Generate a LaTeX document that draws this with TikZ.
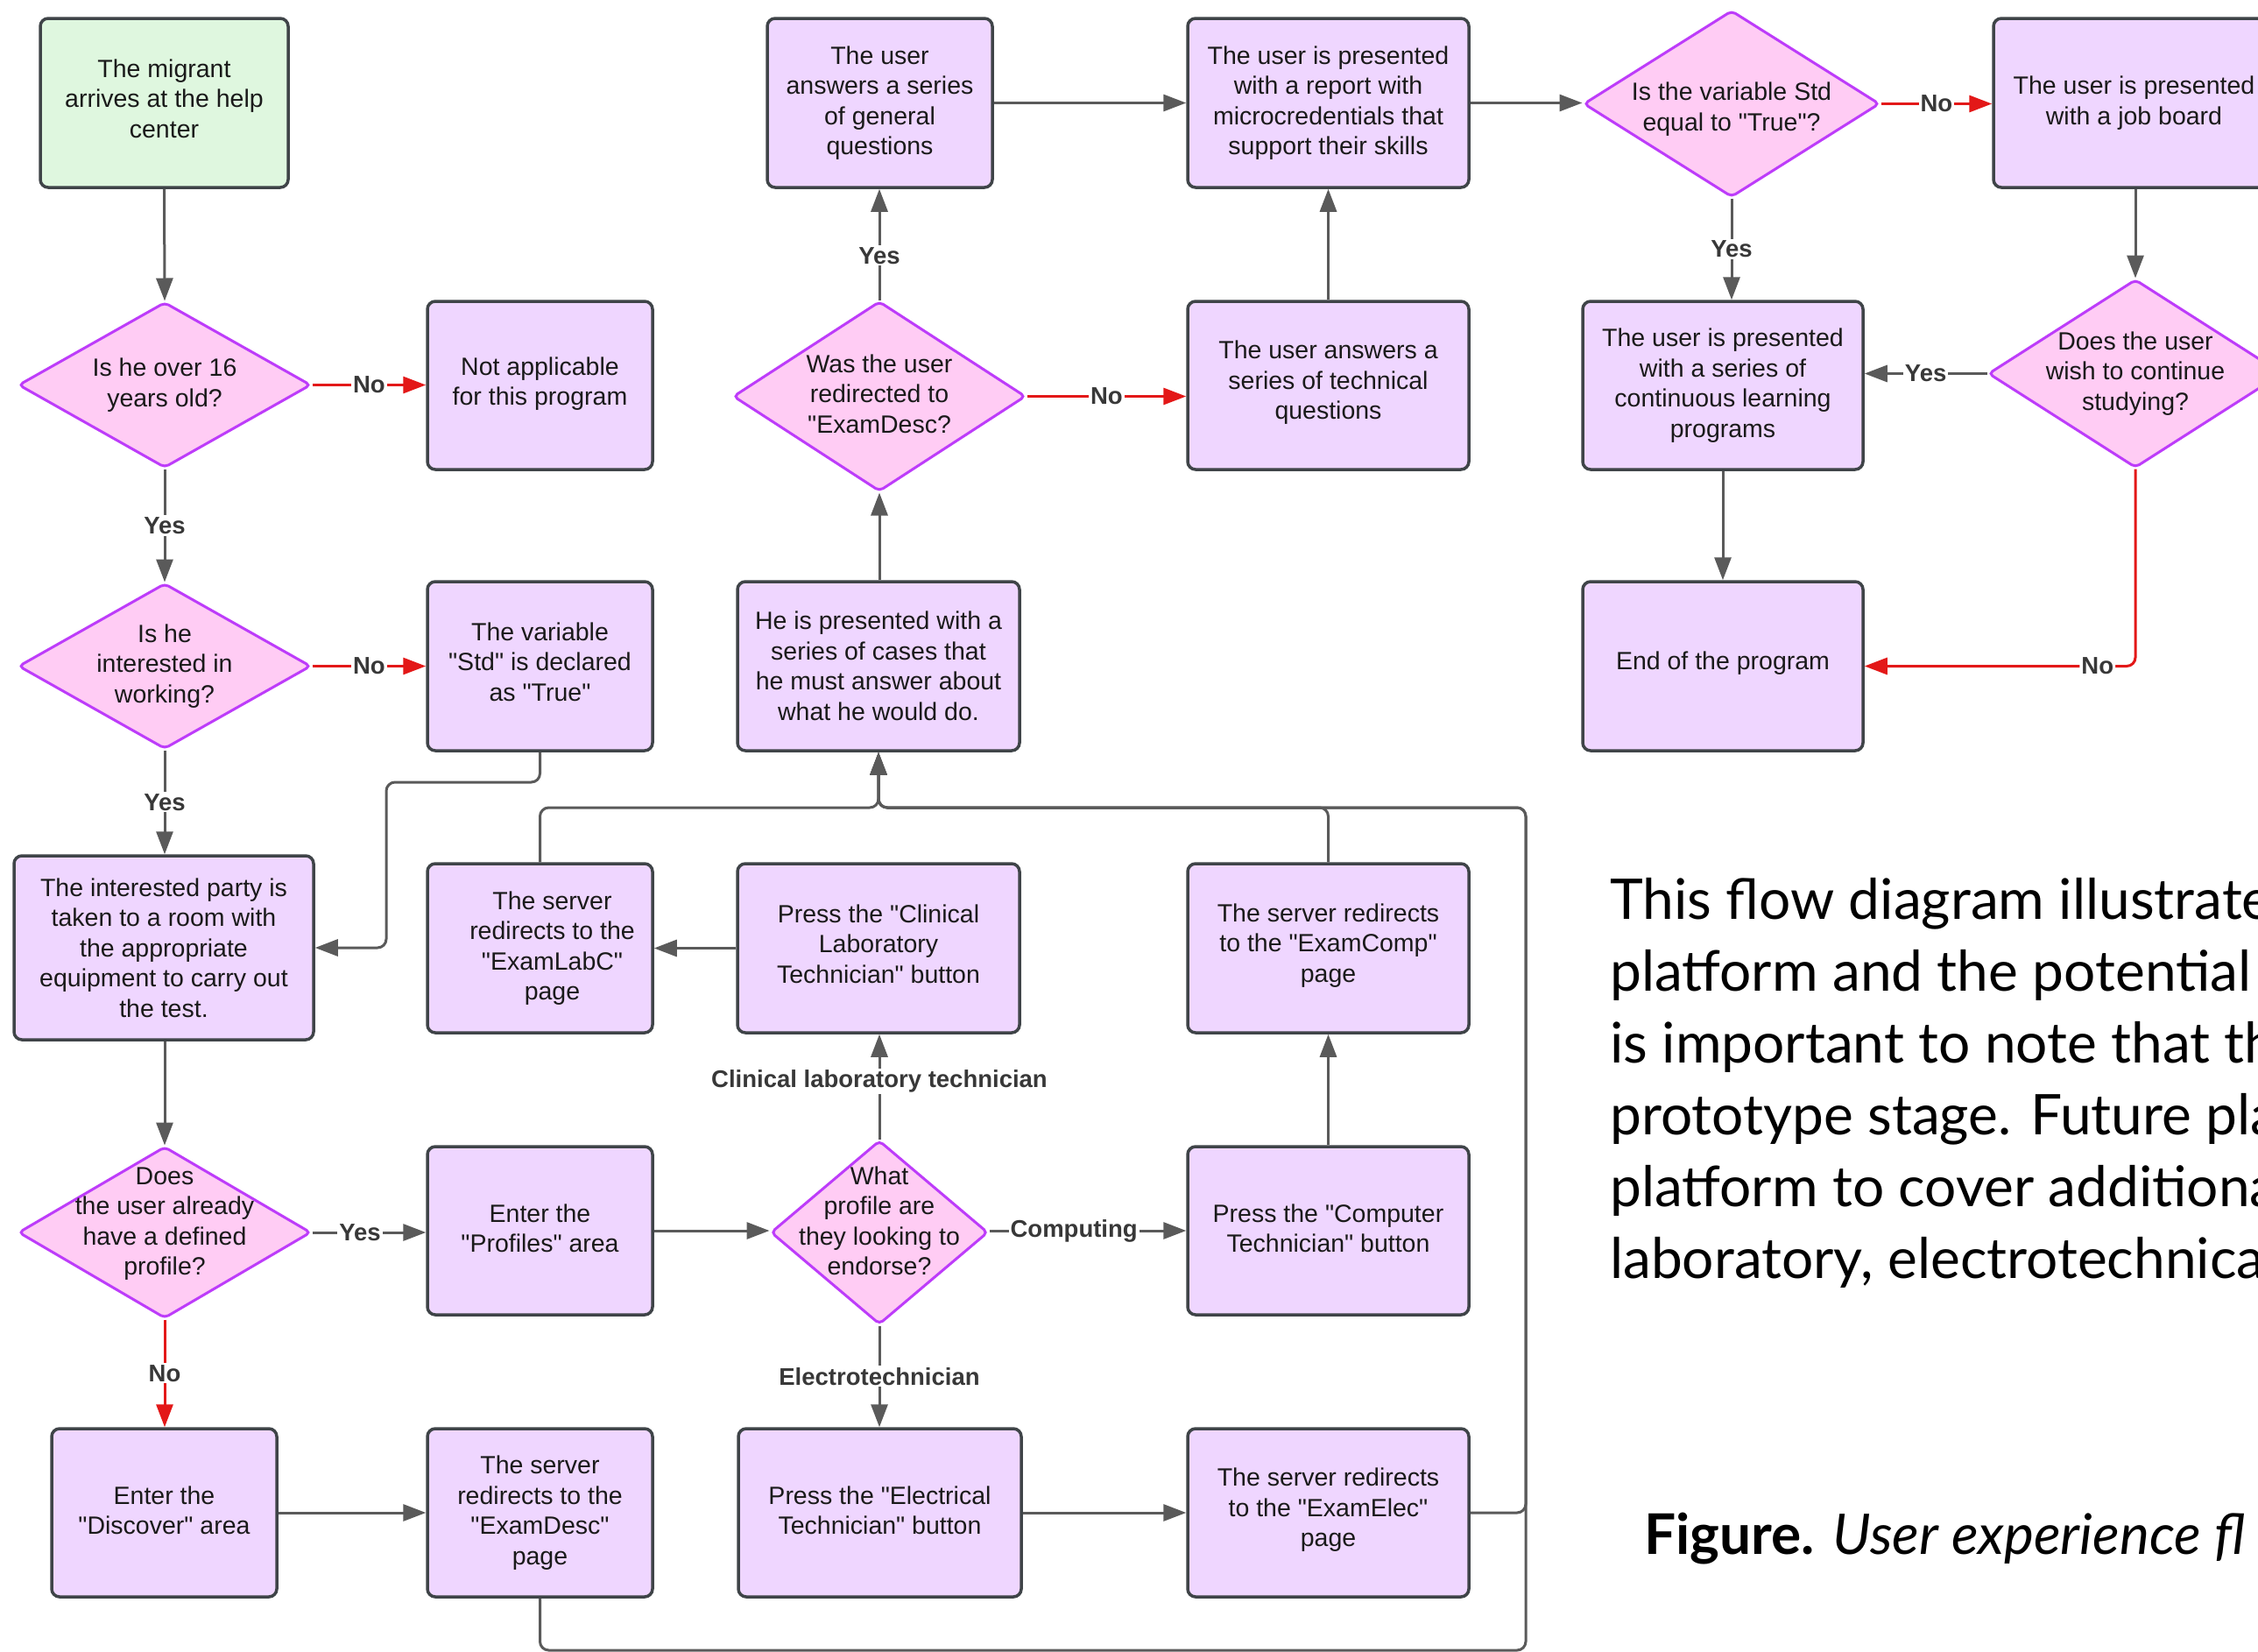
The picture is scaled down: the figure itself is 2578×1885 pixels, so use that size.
\documentclass[tikz,border=0pt]{standalone}
\usepackage{fontspec}
\setmainfont{Liberation Sans}[Ligatures=TeXOff]
\newfontfamily\parafont{Lato}
\usetikzlibrary{arrows.meta,shapes.geometric}
\definecolor{boxfill}{HTML}{EFD6FF}
\definecolor{boxline}{HTML}{3F4448}
\definecolor{greenfill}{HTML}{DFF7DF}
\definecolor{diafill}{HTML}{FFCCF4}
\definecolor{dialine}{HTML}{BD3CFA}
\definecolor{linec}{HTML}{5A5A5A}
\definecolor{redc}{HTML}{E31818}
\definecolor{textc}{HTML}{1A1A1A}
\definecolor{lblc}{HTML}{383838}
\newcommand\bxfont{\fontsize{28.5}{34.5}\selectfont}
\newcommand\lbfont{\bfseries\fontsize{27.5}{32}\selectfont}
\tikzset{
  box/.style={rectangle, rounded corners=9pt, draw=boxline, line width=3.5pt, fill=boxfill, inner sep=0pt, align=center, text=textc, font=\bxfont},
  sz/.style 2 args={minimum width=#1pt, minimum height=#2pt},
  dia/.style={diamond, rounded corners=5pt, draw=dialine, line width=3pt, fill=diafill, inner sep=0pt},
  dtext/.style={align=center, text=textc, font=\bxfont, inner sep=0pt},
  conn/.style={draw=linec, line width=3pt, -{Triangle[length=26pt,width=19pt]}},
  rconn/.style={draw=redc, line width=3pt, -{Triangle[length=26pt,width=19pt]}},
  lbl/.style={fill=white, inner sep=2pt, text=lblc, font=\lbfont},
  para/.style={inner sep=0pt, font=\parafont\fontsize{64}{82}\selectfont, text=black, anchor=base west},
}
\begin{document}
\begin{tikzpicture}[x=1pt,y=-1pt]
\useasboundingbox (0,0) rectangle (2578,1885);
\clip (0,0) rectangle (2578,1885);
\fill[white] (0,0) rectangle (2578,1885);

% ---------- row 1
\node[box, fill=greenfill, sz={283}{193}, text depth=10pt] (start) at (187.5,117.5) {The migrant\\arrives at the help\\center};
\node[box, sz={257}{193}] (general) at (1004.5,117.5) {The user\\answers a series\\of general\\questions};
\node[box, sz={321}{193}] (report) at (1516.5,117.5) {The user is presented\\with a report with\\microcredentials that\\support their skills};
\node[dia, sz={338}{213}] (stdq) at (1977,118.5) {};
\node[dtext, yshift=-6pt] (stdqt) at (stdq) {Is the variable Std\\equal to "True"?};
\node[box, sz={321}{193}] (jobs) at (2436.5,117.5) {The user is presented\\with a job board};

% ---------- row 2
\node[dia, sz={334}{189}] (over16) at (188,439.5) {};
\node[dtext] (over16t) at (over16) {Is he over 16\\years old?};
\node[box, sz={257}{192}, text depth=10pt] (notapp) at (616.5,440) {Not applicable\\for this program};
\node[dia, sz={334}{217}] (wasq) at (1004,452.5) {};
\node[dtext, yshift=3pt] (wasqt) at (wasq) {Was the user\\redirected to\\"ExamDesc?};
\node[box, sz={321}{192}, text depth=12pt] (technical) at (1516.5,440) {The user answers a\\series of technical\\questions};
\node[box, sz={320}{192}] (cont) at (1967,440) {The user is presented\\with a series of\\continuous learning\\programs};
\node[dia, sz={336}{215}] (wish) at (2438,426.5) {};
\node[dtext] (wisht) at (wish) {Does the user\\wish to continue\\studying?};

% ---------- row 3
\node[dia, sz={334}{189}] (interested) at (188,760.5) {};
\node[dtext] (interestedt) at (interested) {Is he\\interested in\\working?};
\node[box, sz={257}{193}, text depth=10pt] (stdbox) at (616.5,760.5) {The variable\\"Std" is declared\\as "True"};
\node[box, sz={322}{193}] (cases) at (1003,760.5) {He is presented with a\\series of cases that\\he must answer about\\what he would do.};
\node[box, sz={320}{193}, text depth=12pt] (endp) at (1967,760.5) {End of the program};

% ---------- row 4
\node[box, sz={342}{210}] (party) at (187,1082) {The interested party is\\taken to a room with\\the appropriate\\equipment to carry out\\the test.};
\node[box, sz={257}{193}] (labc) at (616.5,1082.5) {\hspace*{28pt}The server\\\hspace*{28pt}redirects to the\\\hspace*{28pt}"ExamLabC"\\\hspace*{28pt}page};
\node[box, sz={322}{193}, text depth=10pt] (clinbtn) at (1003,1082.5) {Press the "Clinical\\Laboratory\\Technician" button};
\node[box, sz={321}{193}, text depth=12pt] (examcomp) at (1516.5,1082.5) {The server redirects\\to the "ExamComp"\\page};

% ---------- row 5
\node[dia, sz={334}{196}] (doesq) at (188,1407) {};
\node[dtext, yshift=10pt] (doesqt) at (doesq) {Does\\the user already\\have a defined\\profile?};
\node[box, sz={257}{192}, text depth=6pt] (profiles) at (616.5,1405) {Enter the\\"Profiles" area};
\node[dia, sz={248}{210}] (whatq) at (1004,1407) {};
\node[dtext, yshift=13pt] (whatqt) at (whatq) {What\\profile are\\they looking to\\endorse?};
\node[box, sz={321}{192}, text depth=6pt] (computer) at (1516.5,1405) {Press the "Computer\\Technician" button};

% ---------- row 6
\node[box, sz={257}{192}, text depth=6pt] (discover) at (187.5,1727) {Enter the\\"Discover" area};
\node[box, sz={257}{192}] (examdesc) at (616.5,1727) {The server\\redirects to the\\"ExamDesc"\\page};
\node[box, sz={323}{192}, text depth=6pt] (electrical) at (1004.5,1727) {Press the "Electrical\\Technician" button};
\node[box, sz={321}{192}, text depth=12pt] (examelec) at (1516.5,1727) {The server redirects\\to the "ExamElec"\\page};

% ---------- connectors
\draw[conn] (start.south) -- (over16.north);
\draw[rconn] (over16.east) -- node[lbl]{No} (over16.east -| notapp.west);
\draw[conn] (over16.south) -- node[lbl]{Yes} (interested.north);
\draw[rconn] (interested.east) -- node[lbl]{No} (interested.east -| stdbox.west);
\draw[conn] (interested.south) -- node[lbl]{Yes} (interested.south |- party.north);
\draw[conn, rounded corners=10pt] (stdbox.south) -- (616.5,893) -- (441,893) -- (441,1082) -- (party.east);
\draw[conn] (party.south -| doesq.north) -- (doesq.north);
\draw[conn] (doesq.east) -- node[lbl, pos=0.42]{Yes} (doesq.east -| profiles.west);
\draw[rconn] (doesq.south) -- node[lbl]{No} (doesq.south |- discover.north);
\draw[conn] (discover.east) -- (examdesc.west);
\draw[conn] (profiles.east) -- (profiles.east -| whatq.west);
\draw[conn] (whatq.north) -- node[lbl, pos=0.55]{Clinical laboratory technician} (whatq.north |- clinbtn.south);
\draw[conn] (whatq.east |- profiles.east) -- node[lbl, pos=0.43]{Computing} (profiles.east -| computer.west);
\draw[conn] (whatq.south) -- node[lbl]{Electrotechnician} (whatq.south |- electrical.north);
\draw[conn] (clinbtn.west) -- (labc.east);
\draw[conn] (electrical.east) -- (examelec.west);
\draw[conn] (computer.north) -- (examcomp.south);
\draw[conn, rounded corners=10pt] (examdesc.south) -- (616.5,1884) -- (1742,1884) -- (1742,922) -- (1003,922) -- (cases.south);
\draw[conn, rounded corners=10pt] (examelec.east) -- (1742,1727) -- (1742,922) -- (1003,922) -- (cases.south);
\draw[conn, rounded corners=10pt] (examcomp.north) -- (1516.5,922) -- (1003,922) -- (cases.south);
\draw[conn, rounded corners=10pt] (labc.north) -- (616.5,922) -- (1003,922) -- (cases.south);
\draw[conn] (cases.north -| wasq.south) -- (wasq.south);
\draw[conn] (wasq.north) -- node[lbl, pos=0.4]{Yes} (wasq.north |- general.south);
\draw[rconn] (wasq.east) -- node[lbl]{No} (wasq.east -| technical.west);
\draw[conn] (technical.north) -- (report.south);
\draw[conn] (general.east) -- (report.west);
\draw[conn] (report.east) -- (report.east -| stdq.west);
\draw[rconn] (stdq.east) -- node[lbl]{No} (stdq.east -| jobs.west);
\draw[conn] (stdq.south) -- node[lbl]{Yes} (stdq.south |- cont.north);
\draw[conn] (jobs.south -| wish.north) -- (wish.north);
\draw[conn] (wish.west) -- node[lbl]{Yes} (wish.west -| cont.east);
\draw[rconn, rounded corners=10pt] (wish.south) -- (2438,760.5) -- node[lbl, pos=0.14]{No} (endp.east);
\draw[conn] (cont.south) -- (endp.north);

% ---------- side text
\node[para] (p1) at (1838,1049) {This flow diagram illustrate};
\node[para] (p2) at (1838,1131) {platform and the potential s};
\node[para] (p3) at (1838,1213) {is important to note that th};
\node[para] (p4) at (1838,1295) {prototype stage. Future pla};
\node[para] (p5) at (1838,1377) {platform to cover additiona};
\node[para] (p6) at (1838,1459) {laboratory, electrotechnical};
\node[para] (cap) at (1877,1774) {\bfseries Figure. \mdseries\itshape User experience fl};
\end{tikzpicture}
\end{document}
